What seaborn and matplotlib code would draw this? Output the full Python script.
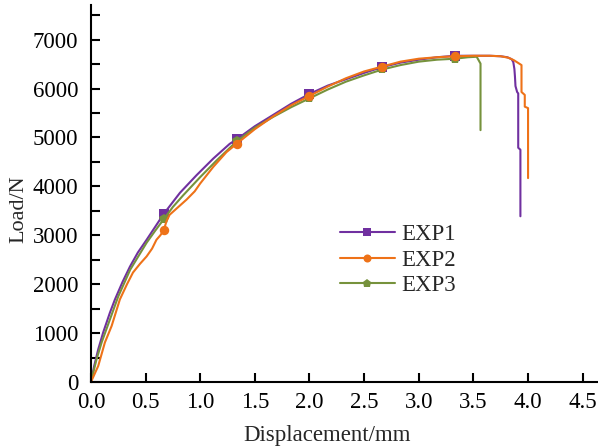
import numpy as np
import pandas as pd
import seaborn as sns
import matplotlib
matplotlib.use("Agg")
import matplotlib.pyplot as plt
from matplotlib.ticker import MultipleLocator

# Load-displacement curves
exp1_x = [0, 0.03, 0.067, 0.113, 0.174, 0.22, 0.29, 0.357, 0.43, 0.51, 0.59, 0.667,
          0.815, 0.967, 1.12, 1.27, 1.333, 1.5, 1.667, 1.833, 2.0, 2.167, 2.333, 2.5,
          2.667, 2.833, 3.0, 3.167, 3.333, 3.5, 3.65, 3.75, 3.81, 3.85, 3.865, 3.875,
          3.88, 3.885, 3.90, 3.91, 3.91, 3.93, 3.93]
exp1_y = [0, 330, 670, 1020, 1420, 1690, 2050, 2360, 2650, 2910, 3180, 3440,
          3870, 4230, 4570, 4870, 4960, 5230, 5460, 5690, 5890, 6060, 6190, 6320,
          6440, 6530, 6590, 6640, 6670, 6670, 6670, 6660, 6640, 6600, 6540, 6400,
          6250, 6050, 5930, 5900, 4790, 4750, 3390]

exp2_x = [0, 0.067, 0.128, 0.19, 0.265, 0.33, 0.385, 0.45, 0.51, 0.56, 0.6, 0.635,
          0.667, 0.69, 0.72, 0.8, 0.875, 0.95, 1.0, 1.12, 1.24, 1.333, 1.5, 1.667,
          1.833, 2.0, 2.167, 2.333, 2.5, 2.667, 2.833, 3.0, 3.167, 3.333, 3.5, 3.65,
          3.75, 3.82, 3.87, 3.94, 3.94, 3.97, 3.97, 4.0, 4.0]
exp2_y = [0, 330, 810, 1150, 1690, 2000, 2240, 2420, 2570, 2730, 2910, 3000,
          3100, 3280, 3420, 3580, 3730, 3900, 4060, 4400, 4700, 4870, 5170, 5430,
          5660, 5850, 6040, 6210, 6350, 6450, 6550, 6610, 6640, 6660, 6670, 6670,
          6660, 6630, 6580, 6480, 5930, 5870, 5630, 5600, 4170]

exp3_x = [0, 0.052, 0.098, 0.174, 0.25, 0.36, 0.51, 0.59, 0.667, 0.75, 0.845, 1.0,
          1.15, 1.333, 1.5, 1.667, 1.833, 2.0, 2.167, 2.333, 2.5, 2.667, 2.833, 3.0,
          3.167, 3.333, 3.45, 3.53, 3.565, 3.565]
exp3_y = [0, 470, 810, 1280, 1750, 2300, 2850, 3100, 3330, 3580, 3820, 4190,
          4530, 4920, 5200, 5420, 5620, 5800, 5980, 6140, 6270, 6390, 6480, 6550,
          6590, 6610, 6640, 6650, 6510, 5150]

marker_x = [0.667, 1.333, 2.0, 2.667, 3.333]
labels = ["EXP1", "EXP2", "EXP3"]
colors = ["#7030A0", "#EE7218", "#76923C"]
markers = ["s", "o", "p"]

sns.set_theme(style="ticks")
plt.rcParams["font.family"] = ["Liberation Serif", "DejaVu Serif"]

fig = plt.figure(figsize=(5.98, 4.48), dpi=100)
ax = fig.add_axes([0.152, 0.147, 0.848, 0.841])

curves = [(exp1_x, exp1_y), (exp2_x, exp2_y), (exp3_x, exp3_y)]
# draw order: EXP1, EXP3, EXP2 (orange markers sit on top)
order = [0, 2, 1]
handles = {}
for i in order:
    xs, ys = curves[i]
    df = pd.DataFrame({"x": xs, "y": ys})
    idx = [xs.index(m) for m in marker_x]
    sns.lineplot(data=df, x="x", y="y", sort=False, estimator=None, ax=ax,
                 color=colors[i], lw=1.5, marker=markers[i], markevery=idx,
                 markersize=6.8 if i != 2 else 7.5, markeredgewidth=0,
                 label=labels[i])
    handles[i] = ax.get_lines()[-1]

ax.set_xlim(0, 4.64)
ax.set_ylim(0, 7700)
ax.xaxis.set_major_locator(MultipleLocator(0.5))
ax.yaxis.set_major_locator(MultipleLocator(1000))
ax.yaxis.set_minor_locator(MultipleLocator(500))
ax.xaxis.set_major_formatter(matplotlib.ticker.FormatStrFormatter("%.1f"))

for s in ["top", "right"]:
    ax.spines[s].set_visible(False)
for s in ["left", "bottom"]:
    ax.spines[s].set_linewidth(1.5)
    ax.spines[s].set_color("black")

ax.tick_params(axis="both", which="both", direction="in", length=6.5, width=1.5,
               colors="black", labelsize=16.5)
ax.tick_params(axis="y", pad=9)
ax.tick_params(axis="x", pad=7)

ax.set_xlabel("Displacement/mm", fontsize=16.5)
ax.set_ylabel("Load/N", fontsize=16)
ax.xaxis.set_label_coords(0.465, -0.115)
ax.yaxis.set_label_coords(-0.124, 0.46)

ax.legend(handles=[handles[0], handles[1], handles[2]], labels=labels,
          loc="center left", bbox_to_anchor=(0.491, 0.324), frameon=False,
          fontsize=16.5, handlelength=2.4, handletextpad=0.28, labelspacing=0.2,
          borderpad=0, borderaxespad=0, markerscale=0.85)

fig.savefig("out.png", dpi=100)
